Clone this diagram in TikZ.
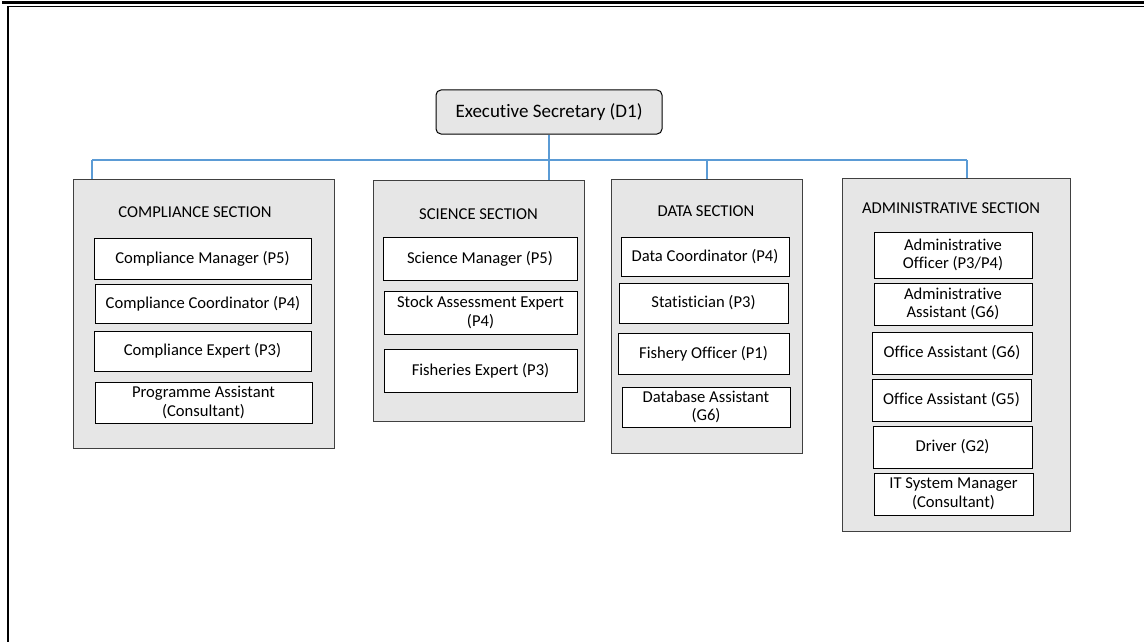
\documentclass[tikz,border=0pt]{standalone}
\usepackage{fontspec}
\setmainfont[Ligatures={NoCommon}]{Carlito}
\definecolor{secfill}{HTML}{E6E6E6}
\definecolor{secline}{HTML}{404040}
\definecolor{conn}{HTML}{5B9BD5}
\begin{document}
\begin{tikzpicture}[x=1pt,y=-1pt,
  txt/.style={font=\fontsize{16.6}{18.5}\selectfont},
  section/.style={draw=secline,line width=1pt,fill=secfill,inner sep=0pt},
  post/.style={draw=black,line width=1pt,fill=white,inner sep=0pt,align=center,txt},
  sectitle/.style={inner sep=0pt,txt},
  execbox/.style={draw=black,line width=1pt,fill=secfill,rounded corners=5pt,inner sep=0pt,font=\fontsize{19}{22}\selectfont},
  link/.style={draw=conn,line width=2pt}]
\useasboundingbox (0,0) rectangle (1144,642);
% page frame
\draw[line width=2.3pt] (2,2.5) -- (1144,2.5);
\draw[line width=1.6pt] (7,6.5) -- (1144,6.5);
\draw[line width=2pt] (7.5,6) -- (7.5,642);

% executive
\node[execbox,minimum width=226,minimum height=44] (exec) at (549,112) {Executive Secretary (D1)};

% sections
\node[section,minimum width=261,minimum height=269] (comp) at (203.5,313.5) {};
\node[section,minimum width=211,minimum height=241] (sci) at (478.5,300.5) {};
\node[section,minimum width=191,minimum height=274] (data) at (706.5,316) {};
\node[section,minimum width=228,minimum height=353] (adm) at (956,354.5) {};

% titles
\node[sectitle] (tcomp) at (195,212) {COMPLIANCE SECTION};
\node[sectitle] (tsci) at (478.5,214) {SCIENCE SECTION};
\node[sectitle] (tdata) at (706,211) {DATA SECTION};
\node[sectitle] (tadm) at (951,208) {ADMINISTRATIVE SECTION};

% compliance posts
\node[post,minimum width=217,minimum height=41] (cm) at (202.5,258.5) {Compliance Manager (P5)};
\node[post,minimum width=216,minimum height=39] (cc) at (203,303.5) {Compliance Coordinator (P4)};
\node[post,minimum width=217,minimum height=40] (ce) at (202.5,351) {Compliance Expert (P3)};
\node[post,minimum width=217,minimum height=41] (pa) at (203.5,402.5) {Programme Assistant\\(Consultant)};

% science posts
\node[post,minimum width=194,minimum height=43] (sm) at (480,258.5) {Science Manager (P5)};
\node[post,minimum width=193,minimum height=43] (sa) at (480.5,312.5) {Stock Assessment Expert\\(P4)};
\node[post,minimum width=193,minimum height=43] (fe) at (480.5,370.5) {Fisheries Expert (P3)};

% data posts
\node[post,minimum width=168,minimum height=39] (dc) at (705,256.5) {Data Coordinator (P4)};
\node[post,minimum width=169,minimum height=40] (st) at (703.5,303) {Statistician (P3)};
\node[post,minimum width=171,minimum height=41] (fo) at (703.5,353.5) {Fishery Officer (P1)};
\node[post,minimum width=168,minimum height=40] (da) at (706,407) {Database Assistant\\(G6)};

% administrative posts
\node[post,minimum width=158,minimum height=46] (ao) at (953,255) {Administrative\\Officer (P3/P4)};
\node[post,minimum width=158,minimum height=42] (aa) at (953,304) {Administrative\\Assistant (G6)};
\node[post,minimum width=160,minimum height=42] (o6) at (952,353) {Office Assistant (G6)};
\node[post,minimum width=159,minimum height=42] (o5) at (951.5,400) {Office Assistant (G5)};
\node[post,minimum width=159,minimum height=42] (dr) at (952.5,447) {Driver (G2)};
\node[post,minimum width=159,minimum height=42] (it) at (953.5,494) {IT System Manager\\(Consultant)};

% connectors
\coordinate (bcomp) at (92,160);
\coordinate (bsci) at (549,160);
\coordinate (bdata) at (707,160);
\coordinate (badm) at (967,160);
\draw[link] (bcomp) -- (badm);
\draw[link] (exec.south) -- (exec.south |- sci.north);
\draw[link] (bcomp) -- (bcomp |- comp.north);
\draw[link] (bdata) -- (bdata |- data.north);
\draw[link] (badm) -- (badm |- adm.north);
\end{tikzpicture}
\end{document}
